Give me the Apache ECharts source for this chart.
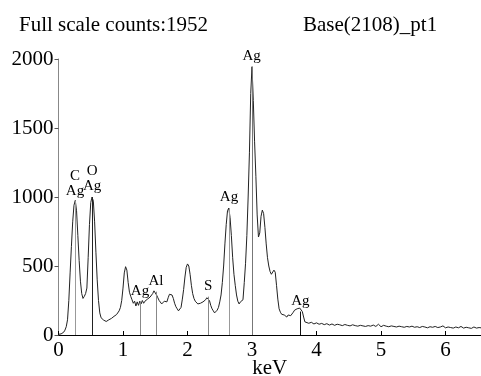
<!DOCTYPE html>
<html><head><meta charset="utf-8">
<script src="https://cdn.jsdelivr.net/npm/echarts@6/dist/echarts.min.js"></script>
<style>html,body{margin:0;padding:0;background:#fff;}#c{width:481px;height:376px;}</style>
</head><body><div id="c"></div>
<script>
var titleLeft = 'Full scale counts:1952';
var titleRight = 'Base(2108)_pt1';
var xTicks = [0, 1, 2, 3, 4, 5, 6];
var yTicks = [0, 500, 1000, 1500, 2000];
var spectrum = [
[0.00,5],[0.02,6],[0.04,8],[0.06,12],[0.08,20],[0.10,35],[0.12,60],[0.14,110],[0.16,250],[0.18,450],
[0.20,640],[0.22,820],[0.24,940],[0.26,975],[0.28,900],[0.30,720],[0.32,540],[0.34,390],[0.36,300],[0.38,265],
[0.40,280],[0.42,300],[0.44,340],[0.46,560],[0.48,800],[0.50,960],[0.52,1000],[0.54,970],[0.56,820],[0.58,600],
[0.60,400],[0.62,250],[0.64,160],[0.66,125],[0.68,115],[0.70,108],[0.72,100],[0.74,98],[0.76,104],[0.78,110],
[0.80,106],[0.82,120],[0.84,128],[0.86,135],[0.88,130],[0.90,148],[0.92,160],[0.94,175],[0.96,200],[0.98,250],
[1.00,340],[1.02,450],[1.04,495],[1.06,470],[1.08,380],[1.10,310],[1.12,280],[1.14,255],[1.16,230],[1.18,245],
[1.20,210],[1.22,240],[1.24,215],[1.26,245],[1.28,225],[1.30,250],[1.32,230],[1.34,245],[1.36,235],[1.38,260],
[1.40,250],[1.42,275],[1.44,265],[1.46,300],[1.48,320],[1.50,310],[1.52,290],[1.54,270],[1.56,250],[1.58,240],
[1.60,225],[1.62,215],[1.64,245],[1.66,255],[1.68,240],[1.70,270],[1.72,295],[1.74,305],[1.76,290],[1.78,265],
[1.80,230],[1.82,205],[1.84,190],[1.86,175],[1.88,165],[1.90,200],[1.92,260],[1.94,330],[1.96,420],[1.98,490],
[2.00,515],[2.02,500],[2.04,440],[2.06,360],[2.08,300],[2.10,265],[2.12,245],[2.14,240],[2.16,225],[2.18,218],
[2.20,230],[2.22,220],[2.24,240],[2.26,245],[2.28,255],[2.30,270],[2.32,278],[2.34,250],[2.36,215],[2.38,190],
[2.40,175],[2.42,160],[2.44,165],[2.46,180],[2.48,200],[2.50,240],[2.52,290],[2.54,380],[2.56,500],[2.58,660],
[2.60,800],[2.62,900],[2.64,920],[2.66,850],[2.68,720],[2.70,560],[2.72,440],[2.74,360],[2.76,290],[2.78,245],
[2.80,225],[2.82,240],[2.84,250],[2.86,255],[2.88,380],[2.90,520],[2.92,720],[2.94,1000],[2.96,1320],[2.98,1750],
[3.00,1944],[3.02,1700],[3.04,1400],[3.06,1150],[3.08,870],[3.10,710],[3.12,740],[3.14,860],[3.16,905],[3.18,880],
[3.20,780],[3.22,660],[3.24,560],[3.26,500],[3.28,460],[3.30,440],[3.32,450],[3.34,470],[3.36,455],[3.38,360],
[3.40,260],[3.42,190],[3.44,165],[3.46,150],[3.48,155],[3.50,145],[3.52,140],[3.54,130],[3.56,145],[3.58,150],
[3.60,140],[3.62,150],[3.64,165],[3.66,180],[3.68,175],[3.70,190],[3.72,180],[3.74,195],[3.76,190],[3.78,170],
[3.80,130],[3.82,95],[3.84,90],
[3.88,85],[3.92,92],[3.96,80],[4.00,88],[4.04,78],[4.08,84],[4.12,75],[4.16,82],[4.20,72],[4.24,80],
[4.28,70],[4.32,78],[4.36,74],[4.40,68],[4.44,76],[4.48,70],[4.52,66],[4.56,74],[4.60,68],[4.64,64],
[4.68,70],[4.72,66],[4.76,62],[4.80,68],[4.84,64],[4.88,72],[4.92,62],[4.96,78],[5.00,60],[5.04,70],
[5.08,64],[5.12,60],[5.16,66],[5.20,62],[5.24,58],[5.28,64],[5.32,60],[5.36,56],[5.40,62],[5.44,58],
[5.48,64],[5.52,56],[5.56,60],[5.60,54],[5.64,62],[5.68,58],[5.72,52],[5.76,60],[5.80,56],[5.84,62],
[5.88,54],[5.92,58],[5.96,66],[6.00,52],[6.04,58],[6.08,54],[6.12,50],[6.16,58],[6.20,52],[6.24,62],
[6.28,50],[6.32,56],[6.36,52],[6.40,48],[6.44,58],[6.48,50],[6.52,54],[6.55,52]
];
var markerEnergy = [0.256, 0.52, 1.264, 1.512, 2.32, 2.643, 2.995, 3.75];
var markerHeight = [970, 1000, 240, 314, 278, 920, 1944, 170];
var markerLabel = ['C\nAg', 'O\nAg', 'Ag', 'Al', 'S', 'Ag', 'Ag', 'Ag'];
var markerColor = ['#999', '#222', '#888', '#888', '#888', '#999', '#777', '#111'];

var FONT = '"Liberation Serif","Times New Roman",serif';
var chart = echarts.init(document.getElementById('c'), null, {renderer: 'canvas'});
var markerData = markerEnergy.map(function (e, i) { return [e, markerHeight[i]]; });
chart.setOption({
  animation: false,
  backgroundColor: '#fff',
  title: [
    {text: titleLeft, left: 19, top: 15, padding: 0, textStyle: {fontFamily: FONT, fontSize: 21, fontWeight: 'normal', color: '#000'}},
    {text: titleRight, left: 303, top: 15, padding: 0, textStyle: {fontFamily: FONT, fontSize: 21, fontWeight: 'normal', color: '#000'}}
  ],
  grid: {left: 58.5, right: 0, top: 59, bottom: 41, containLabel: false, outerBoundsMode: 'none'},
  xAxis: {
    type: 'value', min: 0, max: 6.55, interval: 1,
    name: 'keV', nameLocation: 'middle', nameGap: 23, nameMoveOverlap: false,
    nameTextStyle: {fontFamily: FONT, fontSize: 21, color: '#000'},
    axisLine: {show: true, onZero: false, lineStyle: {color: '#000', width: 1}},
    axisTick: {show: true, inside: true, length: 4, lineStyle: {color: '#000'}},
    axisLabel: {margin: 5, fontFamily: FONT, fontSize: 21, color: '#000', showMaxLabel: false,
      formatter: function (v) { return xTicks.indexOf(v) >= 0 ? String(v) : ''; }},
    splitLine: {show: false}
  },
  yAxis: {
    type: 'value', min: 0, max: 2000, interval: 500,
    axisLine: {show: true, lineStyle: {color: '#888', width: 1}},
    axisTick: {show: true, inside: false, length: 4, lineStyle: {color: '#555'}},
    axisLabel: {margin: 5, fontFamily: FONT, fontSize: 21, color: '#000',
      formatter: function (v) { return yTicks.indexOf(v) >= 0 ? String(v) : ''; }},
    splitLine: {show: false}
  },
  series: [
    {
      type: 'line', data: spectrum, showSymbol: false, symbol: 'none',
      lineStyle: {color: '#222', width: 1}, z: 3
    },
    {
      type: 'custom', data: markerData, z: 4,
      renderItem: function (params, api) {
        var i = params.dataIndex;
        var x = api.value(0), h = api.value(1);
        var p0 = api.coord([x, 0]), p1 = api.coord([x, h]);
        var px = Math.round(p0[0]) + 0.5;
        return {
          type: 'group',
          children: [
            {type: 'line', shape: {x1: px, y1: p0[1], x2: px, y2: p1[1]}, style: {stroke: markerColor[i], lineWidth: 1}},
            {type: 'text', style: {text: markerLabel[i], x: p1[0], y: p1[1] - 3,
              align: 'center', verticalAlign: 'bottom', textAlign: 'center', textVerticalAlign: 'bottom',
              font: '15px ' + FONT, fontFamily: FONT, fontSize: 15, lineHeight: 15, fill: '#000'}}
          ]
        };
      }
    }
  ]
});
</script></body></html>
